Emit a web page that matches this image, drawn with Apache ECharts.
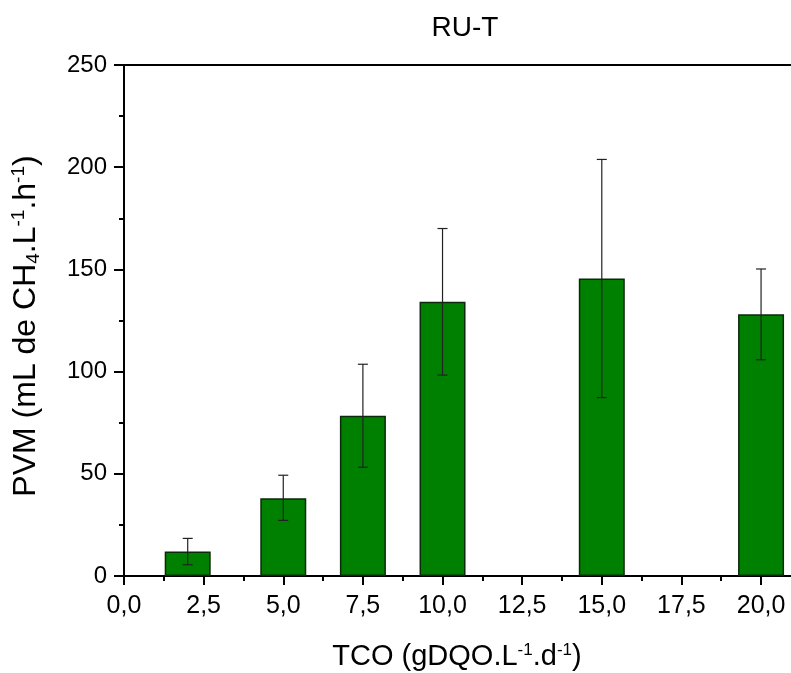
<!DOCTYPE html>
<html>
<head>
<meta charset="utf-8">
<script src="https://cdn.jsdelivr.net/npm/echarts@6/dist/echarts.min.js"></script>
<style>
  html, body { margin: 0; padding: 0; background: #fff; }
  #chart { width: 791px; height: 673px; }
</style>
</head>
<body>
<div id="chart"></div>
<script>
// ---- data ----
const barPositions = [2.0, 5.0, 7.5, 10.0, 15.0, 20.0];
const barValues    = [12, 38, 78.4, 134.2, 145.6, 128];
const errLow       = [5.5, 27.2, 53.2, 98.3, 87.3, 105.8];
const errHigh      = [18.4, 49.3, 103.6, 170, 203.8, 150.2];
const xTickValues  = [0, 2.5, 5, 7.5, 10, 12.5, 15, 17.5, 20];
const xMinorTicks  = [1.25, 3.75, 6.25, 8.75, 11.25, 13.75, 16.25, 18.75];
const yTickValues  = [0, 50, 100, 150, 200, 250];
const titleText    = 'RU-T';

const FONT = "'Liberation Sans', Arial, sans-serif";
const X_MAX = 20.94;

const chart = echarts.init(document.getElementById('chart'), null, { renderer: 'canvas' });

const barData = barPositions.map((x, i) => [x, barValues[i]]);
const errData = barPositions.map((x, i) => [x, errLow[i], errHigh[i]]);

const blackLine = { color: '#000', width: 2 };

const option = {
  backgroundColor: '#fff',
  animation: false,
  grid: { left: 124, top: 65, right: 0, bottom: 97, containLabel: false },
  xAxis: [
    {
      type: 'value', min: 0, max: X_MAX, position: 'bottom',
      axisLine: { show: true, onZero: false, lineStyle: blackLine },
      axisTick: { show: true, inside: false, length: 9, lineStyle: blackLine, customValues: xTickValues },
      splitLine: { show: false },
      axisLabel: {
        show: true, margin: 18, fontSize: 25, fontFamily: FONT, color: '#000',
        customValues: xTickValues,
        formatter: v => v.toFixed(1).replace('.', ',')
      }
    },
    {
      type: 'value', min: 0, max: X_MAX, position: 'bottom',
      axisLine: { show: false, onZero: false },
      axisTick: { show: true, inside: false, length: 5, lineStyle: blackLine, customValues: xMinorTicks },
      splitLine: { show: false },
      axisLabel: { show: false }
    },
    {
      type: 'value', min: 0, max: X_MAX, position: 'top',
      axisLine: { show: true, onZero: false, lineStyle: blackLine },
      axisTick: { show: false },
      splitLine: { show: false },
      axisLabel: { show: false }
    }
  ],
  yAxis: {
    type: 'value', min: 0, max: 250, interval: 50,
    axisLine: { show: true, onZero: false, lineStyle: blackLine },
    axisTick: { show: true, inside: false, length: 10, lineStyle: blackLine },
    minorTick: { show: true, splitNumber: 2, length: 5, lineStyle: blackLine },
    splitLine: { show: false },
    axisLabel: {
      show: true, margin: 17, fontSize: 24, fontFamily: FONT, color: '#000',
      formatter: v => yTickValues.indexOf(v) >= 0 ? String(v) : ''
    }
  },
  series: [
    {
      type: 'bar',
      xAxisIndex: 0,
      data: barData,
      barWidth: 46,
      itemStyle: { color: '#008000', borderColor: '#0b2a0b', borderWidth: 1.5 },
      z: 2
    },
    {
      type: 'custom',
      xAxisIndex: 0,
      data: errData,
      z: 3,
      renderItem: function (params, api) {
        const x = api.value(0);
        const lo = api.coord([x, api.value(1)]);
        const hi = api.coord([x, api.value(2)]);
        const half = 5;
        const style = { stroke: '#222', lineWidth: 1.2 };
        return {
          type: 'group',
          children: [
            { type: 'line', shape: { x1: lo[0], y1: lo[1], x2: hi[0], y2: hi[1] }, style: style },
            { type: 'line', shape: { x1: hi[0] - half, y1: hi[1], x2: hi[0] + half, y2: hi[1] }, style: style },
            { type: 'line', shape: { x1: lo[0] - half, y1: lo[1], x2: lo[0] + half, y2: lo[1] }, style: style }
          ]
        };
      }
    }
  ],
  graphic: [
    {
      type: 'text', x: 465, y: 28,
      style: { text: titleText, fontSize: 28, fontFamily: FONT, fill: '#000', align: 'center', verticalAlign: 'middle' }
    },
    {
      type: 'text', x: 457, y: 657,
      style: {
        text: 'TCO (gDQO.L{sup|-1}.d{sup|-1})',
        fontSize: 29, fontFamily: FONT, fill: '#000', align: 'center', verticalAlign: 'middle',
        lineHeight: 31,
        rich: {
          sup: { fontSize: 17, fontFamily: FONT, fill: '#000', verticalAlign: 'top', lineHeight: 17 }
        }
      }
    },
    {
      type: 'text', x: 26, y: 326, rotation: Math.PI / 2,
      style: {
        text: 'PVM (mL de CH{sub|4}.L{sup|-1}.h{sup|-1})',
        fontSize: 32, fontFamily: FONT, fill: '#000', align: 'center', verticalAlign: 'middle',
        lineHeight: 34,
        rich: {
          sup: { fontSize: 19, fontFamily: FONT, fill: '#000', verticalAlign: 'top', lineHeight: 19 },
          sub: { fontSize: 19, fontFamily: FONT, fill: '#000', verticalAlign: 'bottom', lineHeight: 12 }
        }
      }
    }
  ]
};

chart.setOption(option);
</script>
</body>
</html>
